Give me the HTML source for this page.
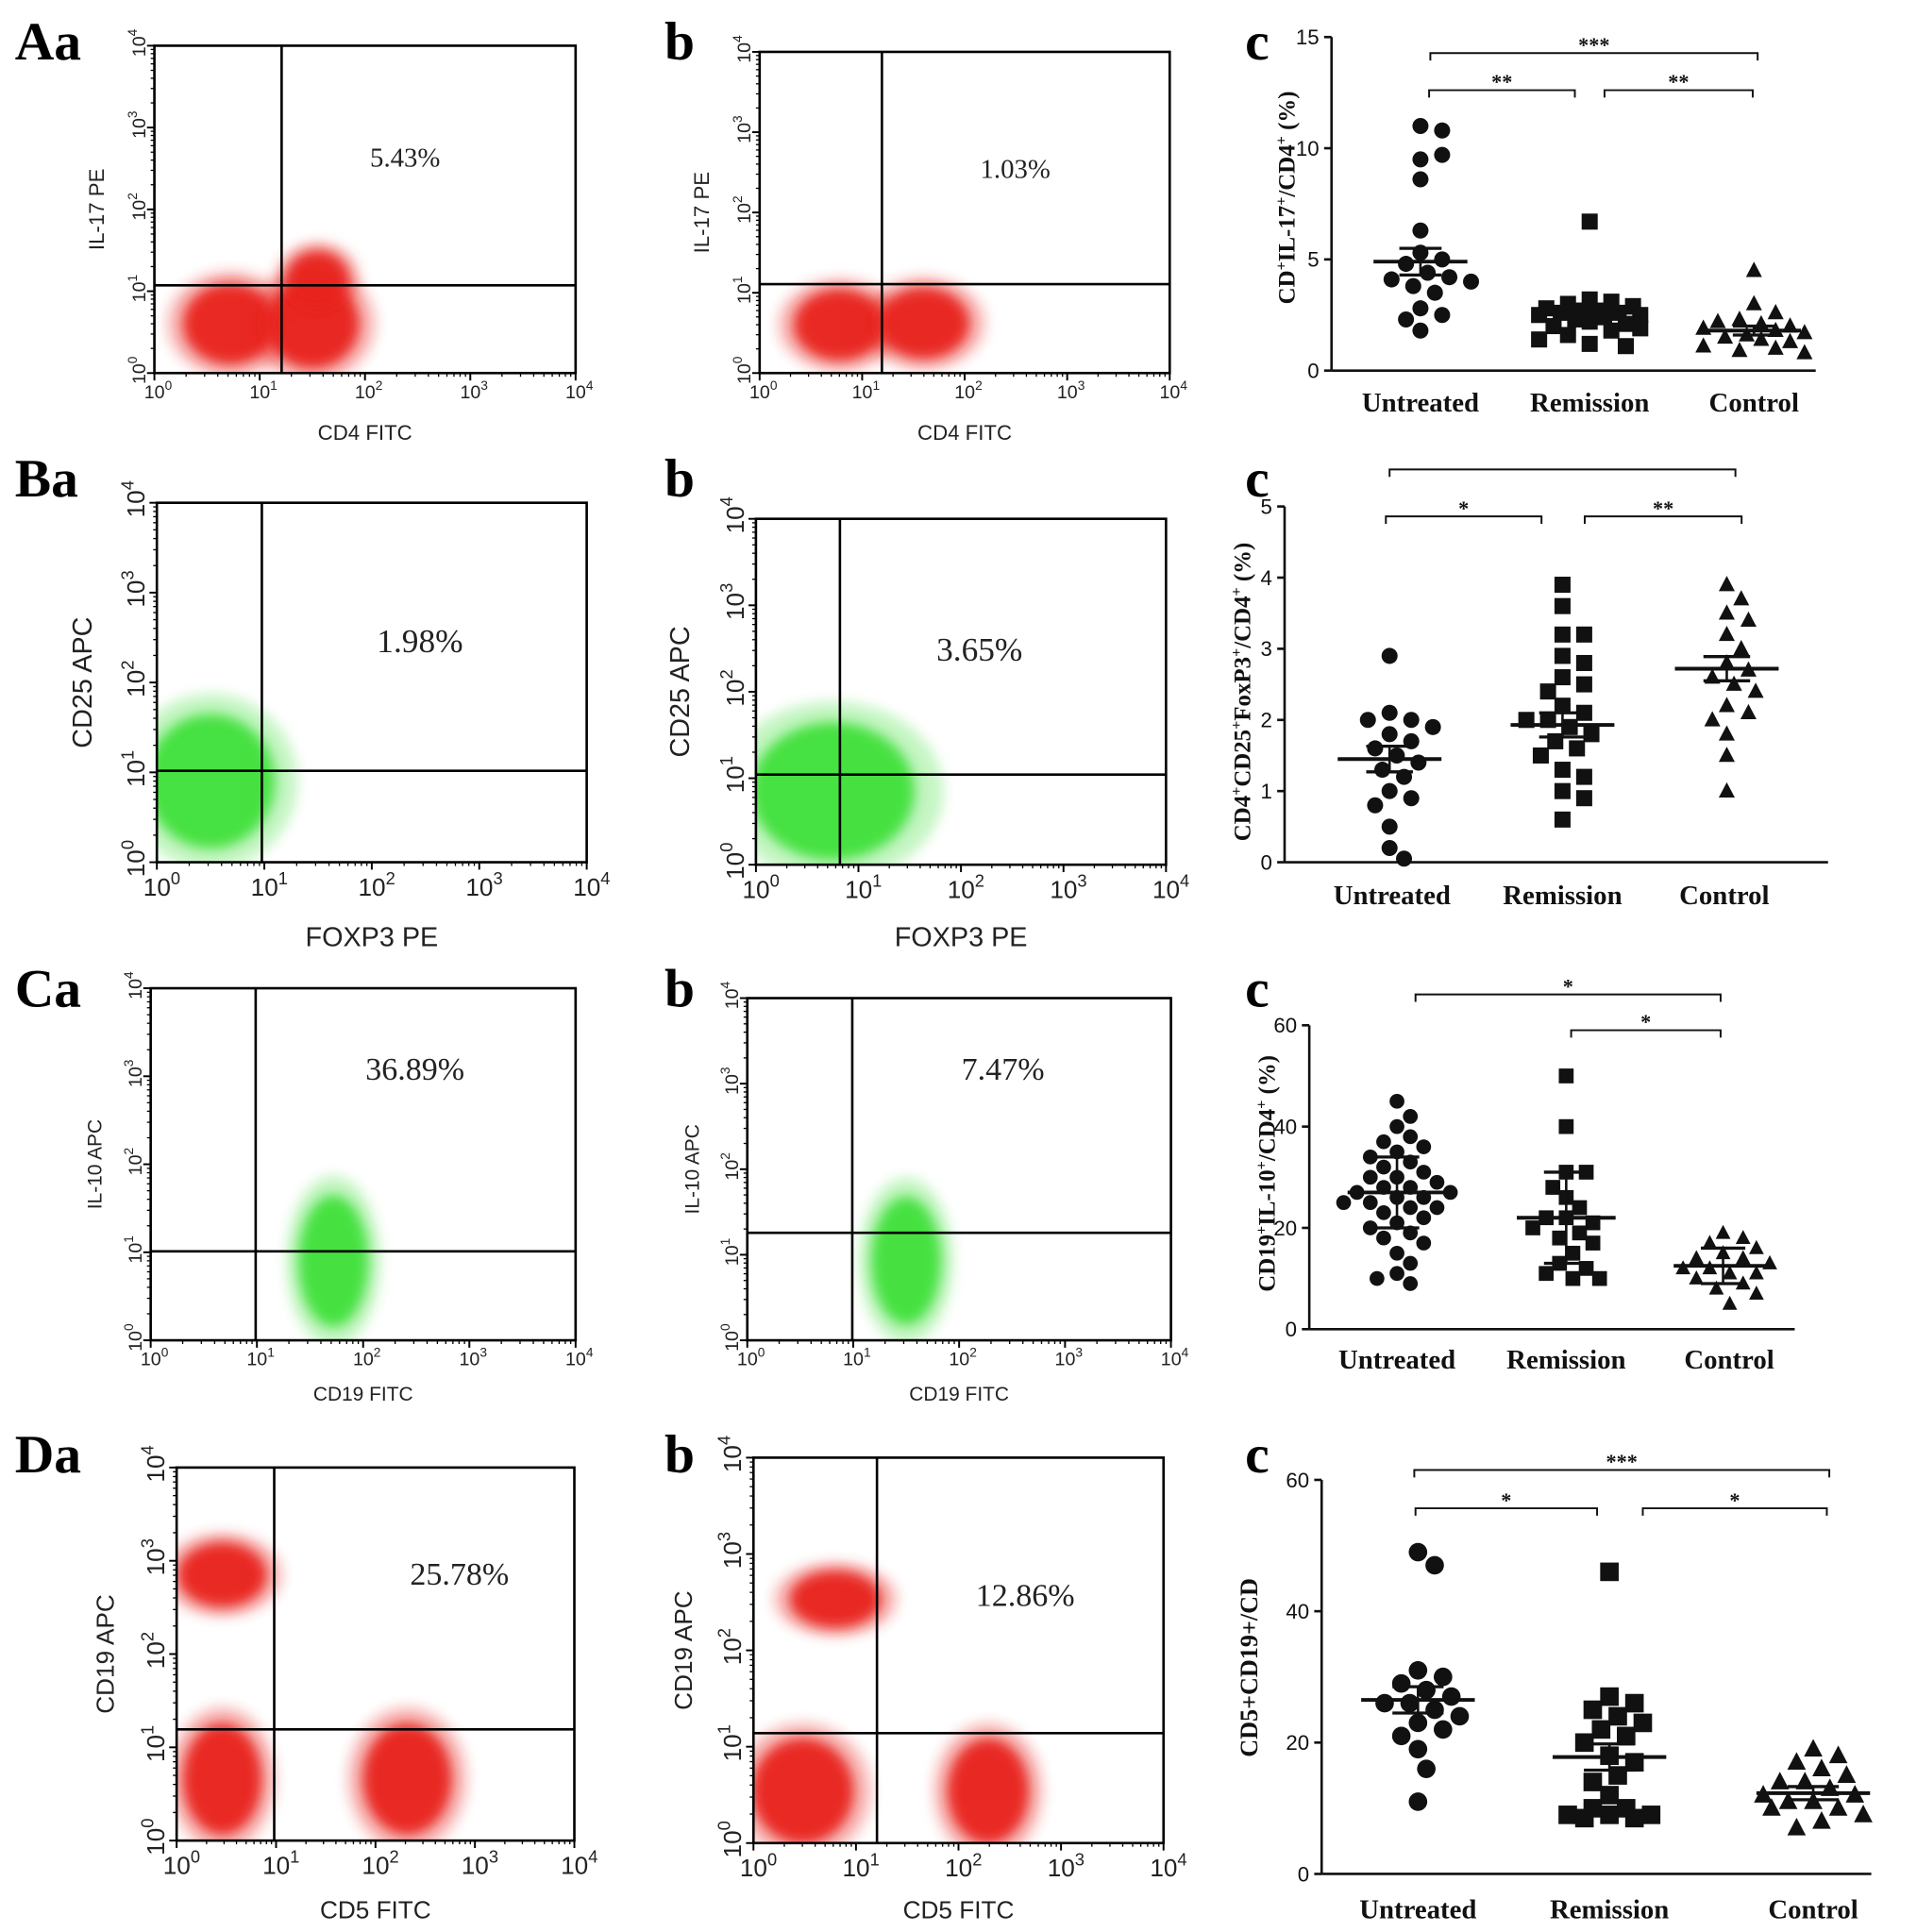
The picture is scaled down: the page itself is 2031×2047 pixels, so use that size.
<!DOCTYPE html>
<html><head><meta charset="utf-8">
<style>
html,body{margin:0;padding:0;background:#fff;overflow:hidden;width:2031px;height:2047px;}
svg{display:block;}
.ser{font-family:"Liberation Serif",serif;}
.san{font-family:"Liberation Sans",sans-serif;}
</style></head>
<body>
<svg id="fig" width="2031" height="2047" viewBox="0 0 1552 1564" preserveAspectRatio="none" xmlns="http://www.w3.org/2000/svg">
<defs>
<filter id="blur" x="-50%" y="-50%" width="200%" height="200%"><feGaussianBlur stdDeviation="5"/></filter>
</defs>
</svg>
<script>
// ---------- data ----------
// flow panels: clusters [xDecade, yDecade, sxDecade, syDecade]
const aaClusters=[[0.72,0.6,0.45,0.5],[1.5,0.6,0.45,0.55],[1.55,1.15,0.3,0.35]];
const abClusters=[[0.78,0.6,0.45,0.45],[1.6,0.62,0.45,0.45]];
const baClusters=[[0.5,0.9,0.6,0.75]];
const bbClusters=[[0.75,0.85,0.8,0.8]];
const caClusters=[[1.72,0.9,0.33,0.75]];
const cbClusters=[[1.5,0.93,0.33,0.75]];
const daClusters=[[0.46,2.85,0.45,0.35],[0.46,0.66,0.4,0.6],[2.32,0.66,0.45,0.6]];
const dbClusters=[[0.8,2.53,0.45,0.3],[0.48,0.54,0.5,0.55],[2.29,0.54,0.4,0.55]];
const percents=["5.43%","1.03%","1.98%","3.65%","36.89%","7.47%","25.78%","12.86%"];
// dot plots
const categories=["Untreated","Remission","Control"];
const acUntreated=[11,10.8,9.5,9.7,8.6,6.3,5.3,5.0,4.8,4.4,4.2,4.1,4.0,3.8,3.5,2.8,2.5,2.3,1.8];
const acRemission=[6.7,3.2,3.1,3.0,2.9,2.8,2.7,2.7,2.6,2.6,2.5,2.5,2.4,2.3,2.2,2.1,2.0,1.9,1.8,1.6,1.4,1.2,1.1];
const acControl=[4.5,3.0,2.6,2.3,2.2,2.1,2.0,1.9,1.8,1.7,1.6,1.5,1.4,1.3,1.1,1.0,0.9,0.8];
const acMeans=[4.9,2.6,1.8], acErr=[0.6,0.25,0.2];
const bcUntreated=[2.9,2.1,2.0,2.0,1.9,1.8,1.7,1.6,1.5,1.4,1.3,1.2,1.0,0.9,0.8,0.5,0.2,0.05];
const bcRemission=[3.9,3.6,3.2,3.2,2.9,2.8,2.6,2.5,2.4,2.2,2.1,2.0,2.0,1.9,1.8,1.7,1.6,1.5,1.3,1.2,1.0,0.9,0.6];
const bcControl=[3.9,3.7,3.5,3.4,3.2,3.0,2.8,2.7,2.6,2.5,2.4,2.2,2.1,2.0,1.8,1.5,1.0];
const bcMeans=[1.45,1.93,2.72], bcErr=[0.18,0.17,0.17];
const ccUntreated=[45,42,40,38,37,36,35,34,33,32,31,30,30,29,28,28,27,27,26,26,25,25,24,24,23,22,21,20,19,18,17,15,13,11,10,9];
const ccRemission=[50,40,31,31,28,26,24,22,22,21,20,19,18,17,15,13,12,11,10,10];
const ccControl=[19,18,17,16,15,14,14,13,12,12,11,11,10,9,8,7,5];
const ccMeans=[27,22,12.5], ccErr=[7,9,3.5];
const dcUntreated=[49,47,31,30,29,28,27,26,26,25,24,23,22,21,19,16,11];
const dcRemission=[46,27,26,25,24,23,22,21,20,18,17,15,14,12,10,10,9,9,9,8.5,8.5];
const dcControl=[19,18,17,16,15,14,14,13,12,12,11,11,10,10,9,8,7];
const dcMeans=[26.5,17.8,12.3], dcErr=[2,2,1];
const acTicks=[0,5,10,15], bcTicks=[0,1,2,3,4,5], ccTicks=[0,20,40,60], dcTicks=[0,20,40,60];

const NS="http://www.w3.org/2000/svg";
const svg=document.getElementById('fig');
const defs=svg.querySelector('defs');
function el(tag,attrs,parent){const e=document.createElementNS(NS,tag);for(const k in attrs)e.setAttribute(k,attrs[k]);(parent||svg).appendChild(e);return e;}
function txt(s,x,y,attrs,parent){const t=el('text',Object.assign({x:x,y:y},attrs),parent);t.textContent=s;return t;}

[["Aa",12,48],["b",538,48],["c",1008,48],["Ba",12,402],["b",538,402],["c",1008,402],["Ca",12,815],["b",538,815],["c",1008,815],["Da",12,1192],["b",538,1192],["c",1008,1192]].forEach(l=>{
  const t=txt(l[0],l[1],l[2],{class:'ser','font-size':44,'font-weight':'bold',fill:'#000'});
  
  
});

function flow(o){
  const g=el('g',{});
  
  
  const [x0,y0,x1,y1]=o.box;
  const cp=el('clipPath',{id:'clip-'+o.name},defs);
  el('rect',{x:x0,y:y0,width:x1-x0,height:y1-y0},cp);
  const cg=el('g',{'clip-path':`url(#clip-${o.name})`},g);
  const xs=d=>x0+(x1-x0)*d/4, ys=d=>y1-(y1-y0)*d/4;
  const dx=(x1-x0)/4, dy=(y1-y0)/4;
  o.clusters.forEach(c=>{
    const e2=el('ellipse',{cx:xs(c[0]),cy:ys(c[1]),rx:c[2]*dx*1.35,ry:c[3]*dy*1.3,fill:o.color,opacity:0.3,filter:'url(#blur)'},cg);
    
    
    const e=el('ellipse',{cx:xs(c[0]),cy:ys(c[1]),rx:c[2]*dx,ry:c[3]*dy,fill:o.color,opacity:0.95,filter:'url(#blur)'},cg);
    
    
  });
  const box=el('rect',{x:x0,y:y0,width:x1-x0,height:y1-y0,fill:'none',stroke:'#000','stroke-width':2},g);
  
  
  el('line',{x1:o.v,y1:y0,x2:o.v,y2:y1,stroke:'#000','stroke-width':2},g);
  el('line',{x1:x0,y1:o.h,x2:x1,y2:o.h,stroke:'#000','stroke-width':2},g);
  for(let d=0;d<=4;d++){
    el('line',{x1:xs(d),y1:y1,x2:xs(d),y2:y1+6,stroke:'#000','stroke-width':1.5},g);
    el('line',{x1:x0-6,y1:ys(d),x2:x0,y2:ys(d),stroke:'#000','stroke-width':1.5},g);
    for(let m=2;m<10&&d<4;m++){const f=Math.log10(m);
      el('line',{x1:xs(d+f),y1:y1,x2:xs(d+f),y2:y1+3,stroke:'#000','stroke-width':1},g);
      el('line',{x1:x0-3,y1:ys(d+f),x2:x0,y2:ys(d+f),stroke:'#000','stroke-width':1},g);}
    const tx=txt('10',xs(d)-o.fs*0.55,y1+o.fs*1.35,{class:'san','font-size':o.fs,fill:'#222'},g);
    const sp=el('tspan',{dy:-o.fs*0.45,'font-size':o.fs*0.7},tx);sp.textContent=d;
    const ty=txt('10',0,0,{class:'san','font-size':o.fs,fill:'#222',transform:`translate(${x0-o.fs*0.5} ${ys(d)+o.fs*0.6}) rotate(-90)`},g);
    const sp2=el('tspan',{dy:-o.fs*0.45,'font-size':o.fs*0.7},ty);sp2.textContent=d;
  }
  const xl=txt(o.xlab,(x0+x1)/2,o.xlabY,{class:'san','font-size':o.lfs,'text-anchor':'middle',fill:'#222'},g);
  
  
  const yl=txt(o.ylab,0,0,{class:'san','font-size':o.lfs,'text-anchor':'middle',fill:'#222',transform:`translate(${o.ylabX} ${(y0+y1)/2}) rotate(-90)`},g);
  
  
  const p=txt(o.pct,o.px,o.py,{class:'ser','font-size':o.pfs,'text-anchor':'middle',fill:'#222'},g);
  
  
}
flow({name:'flow-aa',box:[125,37,466,302],v:228,h:231,clusters:aaClusters,color:'#e8231b',xlab:'CD4 FITC',xlabY:356,ylab:'IL-17 PE',ylabX:84,pct:percents[0],px:328,py:135,fs:15,lfs:17,pfs:22});
flow({name:'flow-ab',box:[615,42,947,302],v:714,h:230,clusters:abClusters,color:'#e8231b',xlab:'CD4 FITC',xlabY:356,ylab:'IL-17 PE',ylabX:574,pct:percents[1],px:822,py:144,fs:15,lfs:17,pfs:22});
flow({name:'flow-ba',box:[127,407,475,698],v:212,h:624,clusters:baClusters,color:'#3fe03a',xlab:'FOXP3 PE',xlabY:766,ylab:'CD25 APC',ylabX:74,pct:percents[2],px:340,py:528,fs:20,lfs:22,pfs:27});
flow({name:'flow-bb',box:[612,420,944,700],v:680,h:627,clusters:bbClusters,color:'#3fe03a',xlab:'FOXP3 PE',xlabY:766,ylab:'CD25 APC',ylabX:558,pct:percents[3],px:793,py:535,fs:20,lfs:22,pfs:27});
flow({name:'flow-ca',box:[122,800,466,1085],v:207,h:1013,clusters:caClusters,color:'#3fe03a',xlab:'CD19 FITC',xlabY:1134,ylab:'IL-10 APC',ylabX:82,pct:percents[4],px:336,py:874,fs:15,lfs:16,pfs:26});
flow({name:'flow-cb',box:[605,808,948,1085],v:690,h:998,clusters:cbClusters,color:'#3fe03a',xlab:'CD19 FITC',xlabY:1134,ylab:'IL-10 APC',ylabX:566,pct:percents[5],px:812,py:874,fs:15,lfs:16,pfs:26});
flow({name:'flow-da',box:[143,1188,465,1490],v:222,h:1400,clusters:daClusters,color:'#e8231b',xlab:'CD5 FITC',xlabY:1553,ylab:'CD19 APC',ylabX:92,pct:percents[6],px:372,py:1283,fs:20,lfs:20,pfs:26});
flow({name:'flow-db',box:[610,1180,942,1492],v:710,h:1403,clusters:dbClusters,color:'#e8231b',xlab:'CD5 FITC',xlabY:1553,ylab:'CD19 APC',ylabX:560,pct:percents[7],px:830,py:1300,fs:20,lfs:20,pfs:26});

function marker(kind,x,y,r,g){
  let m;
  if(kind==='circle') m=el('circle',{cx:x,cy:y,r:r,fill:'#111'},g);
  else if(kind==='square') m=el('rect',{x:x-r,y:y-r,width:2*r,height:2*r,fill:'#111'},g);
  else m=el('polygon',{points:`${x},${y-r*1.1} ${x-r},${y+r*0.8} ${x+r},${y+r*0.8}`,fill:'#111'},g);
  return m;
}
function dots(o){
  const g=el('g',{});
  
  
  const ys=v=>o.y0-(o.y0-o.yTop)*v/o.ymax;
  el('line',{x1:o.ax,y1:o.yTop,x2:o.ax,y2:o.y0,stroke:'#111','stroke-width':2},g);
  el('line',{x1:o.ax,y1:o.y0,x2:o.xEnd,y2:o.y0,stroke:'#111','stroke-width':2},g);
  o.ticks.forEach(t=>{
    el('line',{x1:o.ax-6,y1:ys(t),x2:o.ax,y2:ys(t),stroke:'#111','stroke-width':2},g);
    const tl=txt(String(t),o.ax-10,ys(t)+6,{class:'san','font-size':17,'text-anchor':'end',fill:'#111'},g);
    
    
  });
  const kinds=['circle','square','triangle'];
  const maxW=44;
  o.series.forEach((arr,si)=>{
    const cx=o.cx[si];
    const placed=[];
    const d=o.r*2+1.5;
    arr.forEach((v)=>{
      const y=ys(v);
      let best=cx,bestD=-1;
      for(let k=0;k<40;k++){
        const off=(k%2?1:-1)*Math.ceil(k/2)*(o.r*0.9);
        if(Math.abs(off)>maxW) break;
        const tx=cx+off;
        const md=placed.length?Math.min(...placed.map(p=>Math.hypot(p[0]-tx,p[1]-y))):1e9;
        if(md>=d){best=tx;bestD=md;break;}
        if(md>bestD){bestD=md;best=tx;}
      }
      placed.push([best,y]);
      const m=marker(kinds[si],best,y,o.r,g);
      
      
    });
    const my=ys(o.means[si]);
    el('line',{x1:cx-o.mw,y1:my,x2:cx+o.mw,y2:my,stroke:'#111','stroke-width':3},g);
    const e1=ys(o.means[si]+o.err[si]), e2=ys(o.means[si]-o.err[si]);
    el('line',{x1:cx,y1:e1,x2:cx,y2:e2,stroke:'#111','stroke-width':2},g);
    el('line',{x1:cx-o.mw*0.45,y1:e1,x2:cx+o.mw*0.45,y2:e1,stroke:'#111','stroke-width':2.5},g);
    el('line',{x1:cx-o.mw*0.45,y1:e2,x2:cx+o.mw*0.45,y2:e2,stroke:'#111','stroke-width':2.5},g);
    const cl=txt(categories[si],o.lx[si],o.ly,{class:'ser','font-size':22,'font-weight':'bold','text-anchor':'middle',fill:'#111'},g);
    
    
  });
  o.brackets.forEach(b=>{
    const br=el('path',{d:`M${b[0]} ${b[2]+6} V${b[2]} H${b[1]} V${b[2]+6}`,fill:'none',stroke:'#111','stroke-width':1.5},g);
    
    
    if(b[3]){const s=txt(b[3],(b[0]+b[1])/2,b[2]-1,{class:'ser','font-size':17,'font-weight':'bold','text-anchor':'middle',fill:'#111'},g);
      
      }
  });
  const yt=el('text',{class:'ser','font-size':o.tfs,'font-weight':'bold','text-anchor':'middle',fill:'#111',transform:`translate(${o.tx} ${o.ty}) rotate(-90)`},g);
  
  
  o.title.forEach(p=>{
    const a={};
    if(p[1]==='sup'){a.dy=-7;a['font-size']=o.tfs*0.65;}
    else if(p[1]==='base'){a.dy=7;a['font-size']=o.tfs;}
    const s=el('tspan',a,yt);s.textContent=p[0];
  });
}
const T=(s)=>[s,'base'], S=(s)=>[s,'sup'];
dots({name:'dotplot-ac',ax:1078,yTop:30,y0:300,xEnd:1470,ymax:15,ticks:acTicks,series:[acUntreated,acRemission,acControl],means:acMeans,err:acErr,cx:[1150,1287,1420],lx:[1150,1287,1420],ly:333,r:6.5,mw:38,
  brackets:[[1158,1423,43,'***'],[1157,1275,73,'**'],[1299,1419,73,'**']],tx:1048,ty:160,tfs:19,
  title:[['CD',''],S('+'),T('IL-17'),S('+'),T('/CD4'),S('+'),T(' (%)')]});
dots({name:'dotplot-bc',ax:1040,yTop:410,y0:698,xEnd:1480,ymax:5,ticks:bcTicks,series:[bcUntreated,bcRemission,bcControl],means:bcMeans,err:bcErr,cx:[1125,1265,1398],lx:[1127,1265,1396],ly:732,r:6.5,mw:42,
  brackets:[[1125,1405,380,''],[1122,1248,418,'*'],[1283,1410,418,'**']],tx:1012,ty:560,tfs:19,
  title:[['CD4',''],S('+'),T('CD25'),S('+'),T('FoxP3'),S('+'),T('/CD4'),S('+'),T(' (%)')]});
dots({name:'dotplot-cc',ax:1060,yTop:830,y0:1076,xEnd:1453,ymax:60,ticks:ccTicks,series:[ccUntreated,ccRemission,ccControl],means:ccMeans,err:ccErr,cx:[1131,1268,1395],lx:[1131,1268,1400],ly:1108,r:6,mw:40,
  brackets:[[1146,1393,805,'*'],[1272,1393,834,'*']],tx:1032,ty:950,tfs:19,
  title:[['CD19',''],S('+'),T('IL-10'),S('+'),T('/CD4'),S('+'),T(' (%)')]});
dots({name:'dotplot-dc',ax:1070,yTop:1198,y0:1517,xEnd:1515,ymax:60,ticks:dcTicks,series:[dcUntreated,dcRemission,dcControl],means:dcMeans,err:dcErr,cx:[1148,1303,1468],lx:[1148,1303,1468],ly:1553,r:7.5,mw:46,
  brackets:[[1145,1481,1190,'***'],[1146,1293,1221,'*'],[1330,1479,1221,'*']],tx:1018,ty:1350,tfs:20,
  title:[['CD5+CD19+/CD','']]});
</script>
</body></html>
